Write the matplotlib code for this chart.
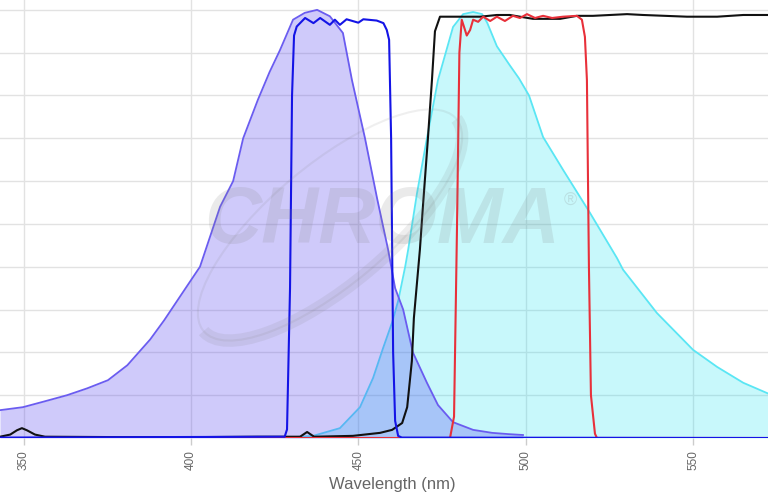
import matplotlib
matplotlib.use("Agg")
import matplotlib.pyplot as plt
from matplotlib.patches import Ellipse, Arc

plt.rcParams['font.family'] = ['Liberation Sans', 'DejaVu Sans']

# excitation spectrum (purple)
exc_nm = [342.95, 349.8, 356.0, 363.0, 369.0, 375.2, 381.0, 387.8, 392.0, 396.7, 402.7,
          408.7, 412.6, 415.6, 420.0, 423.5, 426.6, 430.5, 434.0, 437.7, 441.5, 445.4,
          448.1, 452.0, 455.6, 458.9, 461.0, 463.4, 466.3, 470.5, 473.8, 478.3, 484.3,
          490.0, 495.0, 499.2]
exc_val = [6.5, 7.2, 8.5, 10.0, 11.6, 13.5, 17.0, 23.0, 27.5, 33.0, 40.0,
           54.0, 60.0, 70.0, 79.0, 85.5, 90.6, 97.7, 99.3, 100.0, 98.5, 94.6,
           83.6, 70.0, 56.0, 44.0, 35.0, 30.0, 20.0, 12.9, 7.7, 3.7, 1.9,
           1.2, 0.9, 0.7]

# emission spectrum (cyan)
em_nm = [426.6, 436.5, 444.5, 450.5, 454.4, 457.4, 460.1, 461.9, 464.0, 464.9, 467.5,
         470.5, 473.8, 478.3, 481.3, 484.3, 487.0, 488.5, 491.4, 495.3, 498.0, 501.0,
         505.2, 511.2, 519.2, 527.3, 529.1, 539.2, 550.0, 557.2, 565.0, 572.4]
em_val = [0.0, 0.5, 2.3, 7.2, 14.0, 21.0, 27.0, 32.0, 40.0, 44.0, 57.0,
          70.0, 83.6, 96.0, 99.0, 99.5, 99.0, 97.0, 91.5, 87.0, 84.0, 80.0,
          70.3, 62.6, 52.6, 42.0, 39.3, 29.2, 20.6, 16.6, 12.9, 10.4]

# excitation filter (blue)
exf_nm = [342.95, 428.0, 428.7, 429.6, 430.2, 430.8, 431.6, 434.1, 436.6, 438.6, 441.5,
          443.0, 444.5, 446.5, 450.0, 451.5, 455.5, 457.5, 458.5, 459.2, 459.8, 460.4,
          461.0, 461.9, 463.0, 572.4]
exf_val = [0.1, 0.3, 2.0, 35.0, 80.0, 94.0, 96.1, 98.1, 96.9, 98.1, 96.5,
           97.7, 96.5, 97.8, 97.0, 97.8, 97.5, 96.9, 95.3, 93.0, 70.0, 20.0,
           4.0, 0.5, 0.1, 0.0]

# dichroic (black)
dic_nm = [342.95, 346.0, 348.0, 349.5, 351.0, 353.4, 356.4, 380.0, 400.0, 420.0, 432.6,
          434.7, 436.8, 448.4, 456.5, 460.1, 463.1, 464.6, 466.0, 466.6, 467.5, 468.4,
          469.3, 470.8, 472.0, 472.9, 474.4, 481.3, 486.4, 491.4, 495.3, 498.3, 502.2,
          510.3, 515.3, 520.1, 530.3, 535.1, 548.2, 557.2, 565.0, 572.4]
dic_val = [0.3, 0.8, 1.8, 2.3, 1.8, 0.8, 0.3, 0.2, 0.2, 0.3, 0.3,
           1.4, 0.3, 0.5, 1.2, 1.9, 3.5, 7.2, 18.0, 28.0, 36.0, 44.0,
           54.0, 70.0, 83.6, 95.0, 98.4, 98.4, 98.4, 98.8, 98.8, 98.4, 97.9,
           97.9, 98.6, 98.6, 99.0, 98.8, 98.4, 98.4, 98.8, 98.8]

# emission filter (red)
emf_nm = [356.0, 477.4, 478.6, 479.5, 480.2, 480.9, 482.4, 483.4, 484.3, 485.8, 487.3,
          489.4, 491.4, 493.8, 496.2, 498.3, 500.4, 502.8, 505.2, 507.9, 511.2, 515.3,
          516.8, 517.7, 518.3, 518.9, 519.5, 520.7, 521.3, 572.4]
emf_val = [0.0, 0.0, 5.0, 50.0, 90.0, 97.7, 94.0, 95.3, 97.7, 97.2, 98.4,
           97.4, 98.4, 97.4, 98.6, 98.1, 99.0, 98.1, 98.6, 98.1, 98.4, 98.6,
           97.7, 93.7, 83.6, 40.0, 10.0, 1.0, 0.0, 0.0]

ticks = [350, 400, 450, 500, 550]

fig = plt.figure(figsize=(7.68, 5.0), dpi=100)
ax = fig.add_axes([0, 62 / 500, 1, 438 / 500])

ax.fill_between(em_nm, em_val, 0, color=(0 / 255, 223 / 255, 241 / 255), alpha=0.216, lw=0, zorder=2)
ax.plot(em_nm, em_val, color='#5ae6f4', lw=1.3, zorder=3)
ax.fill_between(exc_nm, exc_val, 0, color=(80 / 255, 60 / 255, 240 / 255), alpha=0.27, lw=0, zorder=4)
ax.plot(exc_nm, exc_val, color='#6a5cf0', lw=1.3, zorder=5)

ax.plot(dic_nm, dic_val, color='#111111', lw=1.5, zorder=6)
ax.plot(emf_nm, emf_val, color='#e8303a', lw=1.5, zorder=7)
ax.plot(exf_nm, exf_val, color='#1414e6', lw=1.5, zorder=8)

ax.set_xlim(342.95, 572.4)
ax.set_ylim(0, 102.3)
ax.set_xticks(ticks)
ax.set_yticks(range(0, 101, 10))
ax.set_yticklabels([])
ax.grid(True, color='#e2e2e2', lw=1, zorder=0)
ax.set_axisbelow(True)
for s in ax.spines.values():
    s.set_visible(False)
ax.tick_params(axis='y', length=0)
ax.tick_params(axis='x', length=5, width=1, color='#cccccc', pad=3.5,
               labelrotation=90, labelsize=8.5, labelcolor='#666666')

fig.text(392.5 / 768, 1 - 485 / 500, 'Wavelength (nm)', ha='center', va='center',
         fontsize=12, color='#666666')

# watermark
wm = fig.add_axes([0, 0, 1, 1], zorder=5)
wm.set_xlim(0, 768)
wm.set_ylim(500, 0)
wm.axis('off')
wm.patch.set_alpha(0)
wm.add_patch(Ellipse((330, 225), 330, 120, angle=-40, fill=False, ec='#808080', lw=1.5, alpha=0.12))
wm.add_patch(Arc((330, 225), 330, 120, angle=-40, theta1=0, theta2=180, color='#808080', lw=9, alpha=0.13))
wm.text(382, 222, 'CHROMA', ha='center', va='center', fontsize=57, fontweight='bold',
        fontstyle='italic', color='#808080', alpha=0.16)
wm.text(570, 200, '\u00ae', ha='center', va='center', fontsize=13, color='#808080', alpha=0.2)

fig.savefig('out.png', dpi=100)
